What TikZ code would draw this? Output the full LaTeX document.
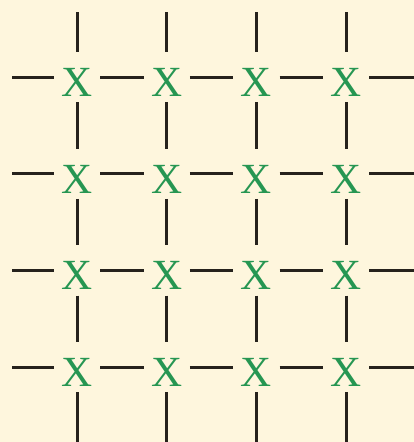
\documentclass[tikz,border=0pt]{standalone}
\usepackage{fontspec}
\setmainfont{Liberation Serif}
\definecolor{bg}{RGB}{254,246,221}
\definecolor{xg}{RGB}{38,150,82}
\definecolor{ln}{RGB}{38,34,28}
\begin{document}
\begin{tikzpicture}[x=1pt,y=-1pt,
  cell/.style={rectangle,inner sep=0pt,minimum width=46pt,minimum height=50pt,
    text height=39pt,text depth=0pt,text=xg,font=\fontsize{43}{43}\selectfont},
  link/.style={draw=ln,line width=3pt}]
\fill[bg] (0,0) rectangle (414,442);
\useasboundingbox (0,0) rectangle (414,442);
\foreach \i in {1,...,4}{
  \foreach \j in {1,...,4}{
    \node[cell] (n\i\j) at ({77+89.7*(\j-1)},{77+96.7*(\i-1)}) {X};
  }
}
\foreach \i in {1,...,4}{
  \coordinate (L\i) at (12,{77+96.7*(\i-1)});
  \coordinate (R\i) at (417,{77+96.7*(\i-1)});
  \draw[link] (L\i) -- (n\i1);
  \draw[link] (n\i1) -- (n\i2);
  \draw[link] (n\i2) -- (n\i3);
  \draw[link] (n\i3) -- (n\i4);
  \draw[link] (n\i4) -- (R\i);
}
\foreach \j in {1,...,4}{
  \coordinate (T\j) at ({77+89.7*(\j-1)},12);
  \coordinate (B\j) at ({77+89.7*(\j-1)},445);
  \draw[link] (T\j) -- (n1\j);
  \draw[link] (n1\j) -- (n2\j);
  \draw[link] (n2\j) -- (n3\j);
  \draw[link] (n3\j) -- (n4\j);
  \draw[link] (n4\j) -- (B\j);
}
\end{tikzpicture}
\end{document}
